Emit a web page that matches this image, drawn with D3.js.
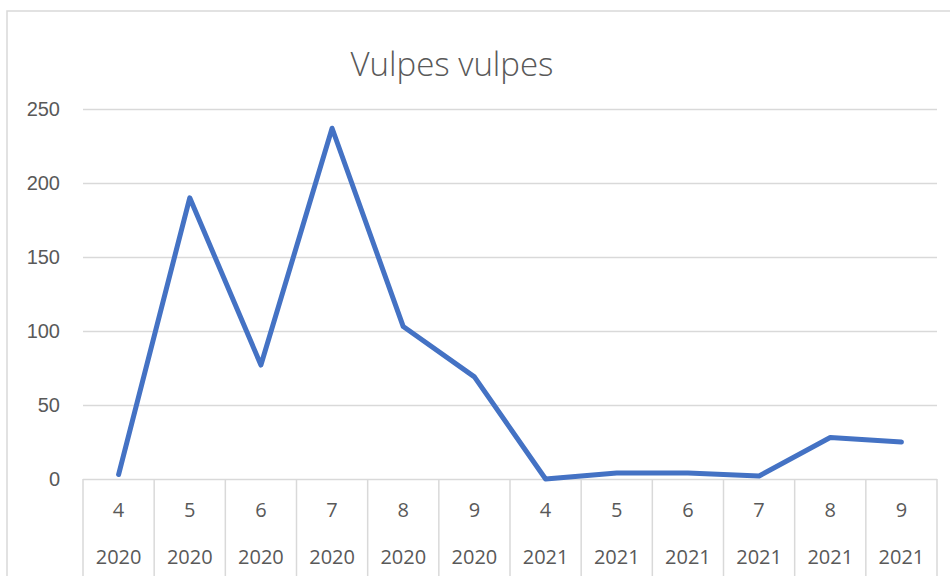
<!DOCTYPE html>
<html>
<head>
<meta charset="utf-8">
<script src="https://cdn.jsdelivr.net/npm/d3@7"></script>
<style>
  html, body { margin: 0; padding: 0; background: #fff; }
  svg { display: block; }
</style>
</head>
<body>
<div id="chart"></div>
<script>
// Vulpes vulpes counts per month
const months = ["4", "5", "6", "7", "8", "9", "4", "5", "6", "7", "8", "9"];
const years = ["2020", "2020", "2020", "2020", "2020", "2020", "2021", "2021", "2021", "2021", "2021", "2021"];
const counts = [3, 190, 77, 237, 103, 69, 0, 4, 4, 2, 28, 25];
const yTicks = [0, 50, 100, 150, 200, 250];

const width = 950, height = 576;
const margin = {top: 109, right: 13, bottom: 97, left: 83};
const textColor = "#595959";
const gridColor = "#d9d9d9";

const svg = d3.select("#chart").append("svg")
    .attr("width", width)
    .attr("height", height)
    .attr("font-family", "'Open Sans', sans-serif");

// chart frame
svg.append("rect")
    .attr("x", 7).attr("y", 11)
    .attr("width", width + 10).attr("height", height + 10)
    .attr("fill", "none")
    .attr("stroke", gridColor)
    .attr("stroke-width", 1.5);

const keys = d3.range(counts.length);

const x = d3.scaleBand()
    .domain(keys)
    .range([margin.left, width - margin.right]);

const y = d3.scaleLinear()
    .domain([0, 250])
    .range([height - margin.bottom, margin.top]);

// gridlines + y labels
const yAxis = d3.axisLeft(y)
    .tickValues(yTicks)
    .tickSize(-(width - margin.left - margin.right))
    .tickPadding(23);

svg.append("g")
    .attr("transform", `translate(${margin.left},0)`)
    .call(yAxis)
    .call(g => g.select(".domain").remove())
    .call(g => g.selectAll(".tick line").attr("stroke", gridColor).attr("stroke-width", 1.5))
    .call(g => g.selectAll(".tick text")
        .attr("fill", textColor)
        .attr("font-size", 20));

// category axis: two rows with dividers
const xg = svg.append("g");
const x0 = y(0);

xg.selectAll("line.div")
  .data(keys.concat([counts.length]))
  .join("line")
    .attr("class", "div")
    .attr("x1", d => d < counts.length ? x(d) : x.range()[1])
    .attr("x2", d => d < counts.length ? x(d) : x.range()[1])
    .attr("y1", x0)
    .attr("y2", height)
    .attr("stroke", gridColor)
    .attr("stroke-width", 1.5);

xg.selectAll("text.month")
  .data(keys)
  .join("text")
    .attr("class", "month")
    .attr("x", d => x(d) + x.bandwidth() / 2)
    .attr("y", 510)
    .attr("dy", "0.35em")
    .attr("text-anchor", "middle")
    .attr("fill", textColor)
    .attr("font-size", 20)
    .text(d => months[d]);

xg.selectAll("text.year")
  .data(keys)
  .join("text")
    .attr("class", "year")
    .attr("x", d => x(d) + x.bandwidth() / 2)
    .attr("y", 557)
    .attr("dy", "0.35em")
    .attr("text-anchor", "middle")
    .attr("fill", textColor)
    .attr("font-size", 20)
    .text(d => years[d]);

// the series
const line = d3.line()
    .x(d => x(d) + x.bandwidth() / 2)
    .y(d => y(counts[d]));

svg.append("path")
    .datum(keys)
    .attr("fill", "none")
    .attr("stroke", "#4472C4")
    .attr("stroke-width", 5)
    .attr("stroke-linejoin", "round")
    .attr("stroke-linecap", "round")
    .attr("d", line);

// title
svg.append("text")
    .attr("x", 452)
    .attr("y", 76)
    .attr("text-anchor", "middle")
    .attr("fill", textColor)
    .attr("font-size", 33)
    .attr("font-weight", 300)
    .text("Vulpes vulpes");
</script>
</body>
</html>
